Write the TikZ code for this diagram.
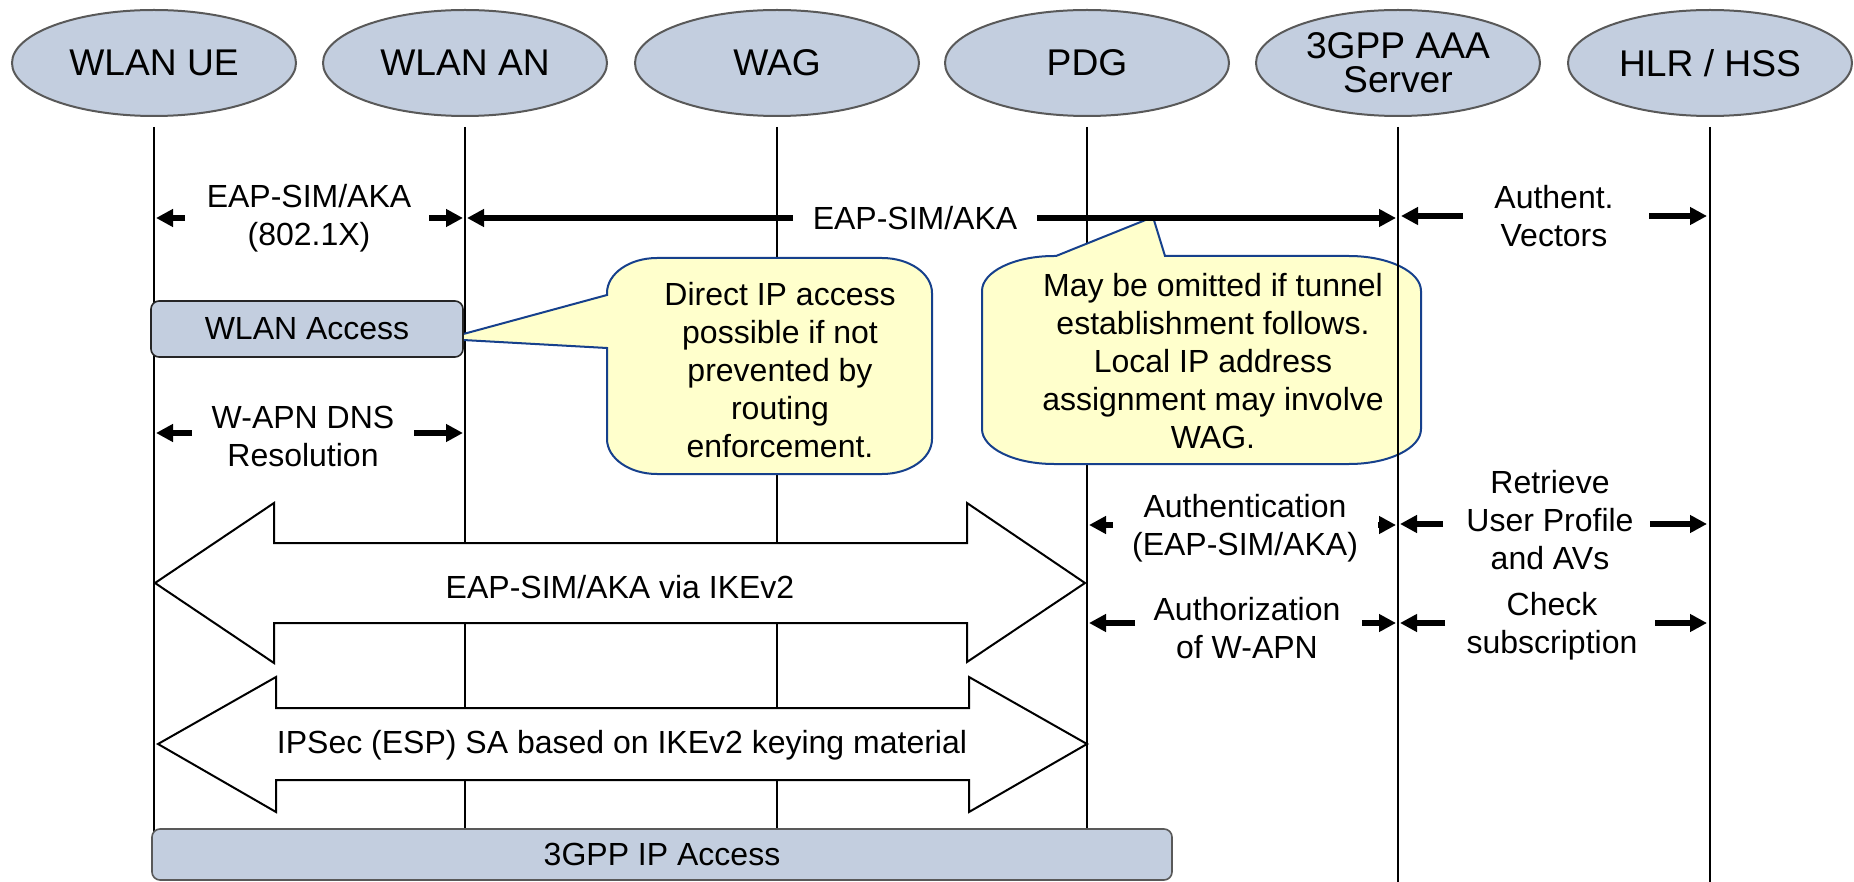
\documentclass[tikz,border=0pt]{standalone}
\usepackage{fontspec}
\setmainfont{Liberation Sans}
\usetikzlibrary{arrows.meta,shapes.geometric}
\definecolor{entityfill}{RGB}{195,206,223}
\definecolor{entityline}{RGB}{89,89,89}
\definecolor{notefill}{RGB}{255,255,204}
\definecolor{noteline}{RGB}{22,64,140}
\begin{document}
\begin{tikzpicture}[x=0.5pt,y=-0.5pt,
  entity/.style={ellipse, draw=entityline, fill=entityfill, line width=1pt,
    minimum width=142pt, minimum height=53pt, inner sep=0pt, align=center,
    font=\fontsize{18.6}{17}\selectfont},
  life/.style={line width=0.75pt},
  msg/.style={line width=3.3pt, -{Triangle[length=8.5pt,width=8.5pt]}},
  lbl/.style={align=center, font=\fontsize{16}{19}\selectfont, inner sep=0pt},
  phase/.style={fill=entityfill, rounded corners=4pt, line width=0.8pt,
    font=\fontsize{16}{19}\selectfont, inner sep=0pt},
  bigarrow/.style={draw, fill=white, line width=1pt},
  note/.style={draw=noteline, fill=notefill, line width=1pt}
]
\useasboundingbox (0,0) rectangle (1854,882);

% entities
\node[entity] (ue)  at (154,63)  {WLAN UE};
\node[entity] (an)  at (465,63)  {WLAN AN};
\node[entity] (wag) at (777,63)  {WAG};
\node[entity] (pdg) at (1087,63) {PDG};
\node[entity] (aaa) at (1398,63) {3GPP AAA\\Server};
\node[entity] (hss) at (1710,63) {HLR / HSS};

% lifelines (the AAA one is drawn later, above the note)
\draw[life] (ue.center |- 0,127)  -- (ue.center |- 0,840);
\draw[life] (an.center |- 0,127)  -- (an.center |- 0,840);
\draw[life] (wag.center |- 0,127) -- (wag.center |- 0,840);
\draw[life] (pdg.center |- 0,127) -- (pdg.center |- 0,840);
\draw[life] (hss.center |- 0,127) -- (hss.center |- 0,882);

% note on direct IP access
\draw[note] (657,258) -- (882,258)
  arc[start angle=-90, end angle=0, x radius=50, y radius=35]
  -- (932,439)
  arc[start angle=0, end angle=90, x radius=50, y radius=35]
  -- (657,474)
  arc[start angle=90, end angle=180, x radius=50, y radius=35]
  -- (607,348) -- (445,339) -- (607,295) -- (607,293)
  arc[start angle=180, end angle=270, x radius=50, y radius=35] -- cycle;
\node[lbl] (note1) at (780,370)
  {Direct IP access\\possible if not\\prevented by\\routing\\enforcement.};

% note on tunnel establishment
\draw[note] (1056,256) -- (1153,217) -- (1165,256) -- (1349,256)
  arc[start angle=-90, end angle=0, x radius=72, y radius=35]
  -- (1421,429)
  arc[start angle=0, end angle=90, x radius=72, y radius=35]
  -- (1054,464)
  arc[start angle=90, end angle=180, x radius=72, y radius=35]
  -- (982,291)
  arc[start angle=180, end angle=270, x radius=72, y radius=35] -- cycle;
\node[lbl] (note2) at (1213,361)
  {May be omitted if tunnel\\establishment follows.\\Local IP address\\assignment may involve\\WAG.};

\draw[life] (aaa.center |- 0,127) -- (aaa.center |- 0,882);

% EAP-SIM/AKA over 802.1X
\node[lbl] (m1) at (309,218) {EAP-SIM/AKA\\(802.1X)};
\draw[msg] (185,218) -- (156,218);
\draw[msg] (429,218) -- (463,218);

% EAP-SIM/AKA towards the AAA server
\node[lbl] (m2) at (915,218) {EAP-SIM/AKA};
\draw[msg] (793,218) -- (467,218);
\draw[msg] (1037,218) -- (1396,218);

% authentication vectors
\node[lbl] (m3) at (1554,216) {Authent.\\Vectors};
\draw[msg] (1463,216) -- (1401,216);
\draw[msg] (1649,216) -- (1707,216);

% WLAN access phase
\node[phase, draw=black!85, minimum width=156pt, minimum height=28pt] (wlanacc)
  at (307,329) {WLAN Access};

% DNS resolution
\node[lbl] (m4) at (303,436) {W-APN DNS\\Resolution};
\draw[msg] (192,433) -- (156,433);
\draw[msg] (414,433) -- (463,433);

% authentication between PDG and AAA
\node[lbl] (m5) at (1245,528) {Authentication\\(EAP-SIM/AKA)};
\draw[msg] (1113,525) -- (1089,525);
\draw[msg] (1378,525) -- (1396,525);

% user profile retrieval
\node[lbl] (m6) at (1550,520) {Retrieve\\User Profile\\and AVs};
\draw[msg] (1443,524) -- (1400,524);
\draw[msg] (1650,524) -- (1707,524);

% W-APN authorization
\node[lbl] (m7) at (1247,628) {Authorization\\of W-APN};
\draw[msg] (1135,623) -- (1089,623);
\draw[msg] (1362,623) -- (1396,623);

% subscription check
\node[lbl] (m8) at (1552,626) {Check\\subscription};
\draw[msg] (1445,623) -- (1400,623);
\draw[msg] (1655,623) -- (1707,623);

% IKEv2 exchange
\draw[bigarrow] (155,583) -- (274,503) -- (274,543) -- (967,543) -- (967,503)
  -- (1085,583) -- (967,662) -- (967,623) -- (274,623) -- (274,663) -- cycle;
\node[lbl] (ike) at (620,587) {EAP-SIM/AKA via IKEv2};

% IPSec tunnel
\draw[bigarrow] (158,744) -- (276,677) -- (276,708) -- (969,708) -- (969,677)
  -- (1087,744) -- (969,812) -- (969,780) -- (276,780) -- (276,812) -- cycle;
\node[lbl] (ipsec) at (622,745) {IPSec (ESP) SA based on IKEv2 keying material};

% 3GPP IP access phase
\node[phase, draw=entityline, minimum width=510pt, minimum height=25.5pt] (ipacc)
  at (662,854.5) {3GPP IP Access};
\end{tikzpicture}
\end{document}
